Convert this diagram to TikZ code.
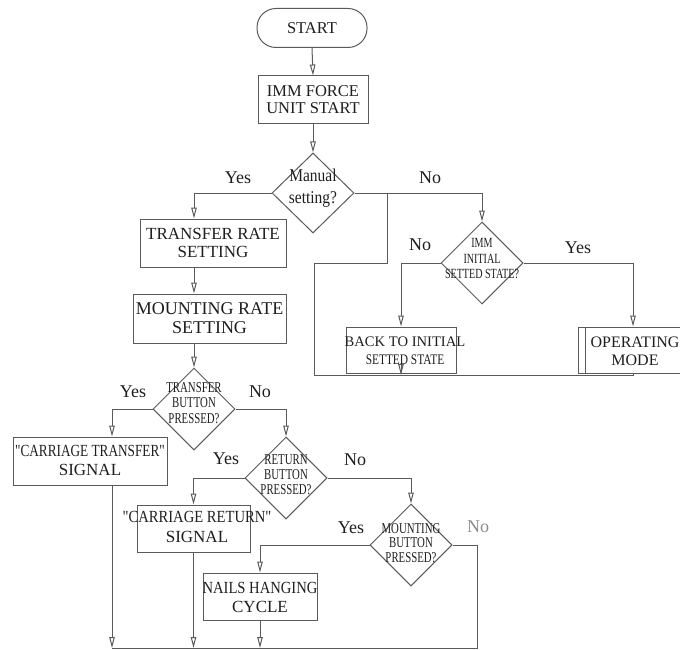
\documentclass[tikz,border=0pt]{standalone}
\usepackage{fontspec}
\setmainfont{Liberation Serif}
\newfontfamily\condA[FakeStretch=0.78]{Liberation Serif}
\newfontfamily\condB[FakeStretch=0.86]{Liberation Serif}
\newfontfamily\condC[FakeStretch=0.72]{Liberation Serif}
\usetikzlibrary{shapes.geometric,arrows.meta}
\definecolor{linec}{RGB}{90,90,90}
\definecolor{txtc}{RGB}{30,30,30}
\definecolor{lgray}{RGB}{140,140,140}
\begin{document}
\begin{tikzpicture}[x=1pt,y=-1pt,
  every node/.style={text=txtc},
  box/.style={draw=linec, line width=1pt, inner sep=0pt, align=center},
  dia/.style={draw=linec, line width=1pt, diamond, inner sep=0pt, minimum width=82pt, minimum height=82pt},
  txt/.style={inner sep=0pt, align=center},
  lbl/.style={inner sep=0pt, font=\fontsize{18}{20}\selectfont},
  ln/.style={draw=linec, line width=1pt},
  arr/.style={ln, -{Triangle[open,length=11pt,width=5.5pt]}}
]
\useasboundingbox (0,0) rectangle (680,650);
\clip (0,0) rectangle (680,650);

% coordinates
\coordinate (bl) at (112,648);
\coordinate (br) at (477,648);
\coordinate (rbl) at (314,375);
\coordinate (rbr) at (633,375);
\coordinate (lp1) at (314,263);
\coordinate (lp2) at (387,193);

% nodes
\node[box, rounded corners=19pt, minimum width=110pt, minimum height=39pt, font=\fontsize{16.5}{18}\selectfont] (start) at (312,28) {START};
\node[box, minimum width=110pt, minimum height=48pt, font=\fontsize{16.5}{17}\selectfont] (imm) at (313,100) {IMM FORCE\\UNIT START};
\node[dia, minimum width=82pt, minimum height=80pt] (man) at (313,193) {};
\node[txt, font=\condB\fontsize{18}{22}\selectfont] (mant) at (313,188) {Manual\\setting?};

\node[box, minimum width=146pt, minimum height=48pt, font=\fontsize{17}{18.5}\selectfont] (tr) at (213,243) {TRANSFER RATE\\SETTING};
\node[box, minimum width=153pt, minimum height=49pt, font=\fontsize{18}{19}\selectfont] (mr) at (209.5,318.5) {MOUNTING RATE\\SETTING};

\node[dia] (tb) at (194,409) {};
\node[txt, font=\condC\fontsize{15}{15.5}\selectfont] (tbt) at (194,403) {TRANSFER\\BUTTON\\PRESSED?};

\node[box, minimum width=154pt, minimum height=48pt] (ct) at (90,461) {};
\node[txt, font=\fontsize{17}{19}\selectfont] (ctt) at (90,460) {{\condA"CARRIAGE TRANSFER"}\\SIGNAL};

\node[dia] (rb) at (286,478) {};
\node[txt, font=\condC\fontsize{15}{15}\selectfont] (rbt) at (286,475) {RETURN\\BUTTON\\PRESSED?};

\node[box, minimum width=113pt, minimum height=47pt] (cr) at (193.5,528.5) {};
\node[txt, font=\fontsize{17}{20}\selectfont] (crt) at (197,527) {{\condB"CARRIAGE RETURN"}\\SIGNAL};

\node[dia] (mb) at (411,545) {};
\node[txt, font=\condC\fontsize{15}{14.5}\selectfont] (mbt) at (411,543) {MOUNTING\\BUTTON\\PRESSED?};

\node[box, minimum width=114pt, minimum height=47pt] (nh) at (260,596.5) {};
\node[txt, font=\fontsize{17}{19}\selectfont] (nht) at (260,597) {{\condB NAILS HANGING}\\CYCLE};

\node[dia] (ii) at (482,263) {};
\node[txt, font=\condC\fontsize{14}{15.5}\selectfont] (iit) at (482,259) {IMM\\INITIAL\\SETTED STATE?};

\node[box, minimum width=110pt, minimum height=46pt] (bk) at (401,350) {};
\node[txt, font=\fontsize{14.6}{18}\selectfont] (bkt) at (405,351) {BACK TO INITIAL\\{\condA SETTED STATE}};

\node[box, minimum width=110pt, minimum height=46pt] (op) at (633,350) {};
\draw[ln] ([xshift=8pt]op.north west) -- ([xshift=8pt]op.south west);
\node[txt, font=\fontsize{16}{18}\selectfont] (opt) at (635,351) {OPERATING\\MODE};

% labels
\node[lbl] (l1) at (238,178) {Yes};
\node[lbl] (l2) at (430,178) {No};
\node[lbl] (l3) at (420,245) {No};
\node[lbl] (l4) at (578,248) {Yes};
\node[lbl] (l5) at (133,392) {Yes};
\node[lbl] (l6) at (260,392) {No};
\node[lbl] (l7) at (226,459) {Yes};
\node[lbl] (l8) at (355,460) {No};
\node[lbl] (l9) at (351,528) {Yes};
\node[lbl, text=lgray] (l10) at (478,527) {No};

% connectors
\draw[arr] (start.south) -- (imm.north);
\draw[arr] (imm.south) -- (man.north);
\draw[arr] (man.west) -| (tr.north -| tb.north);
\draw[arr] (tr.south -| tb.north) -- (mr.north -| tb.north);
\draw[arr] (mr.south -| tb.north) -- (tb.north);
\draw[arr] (tb.west) -| ([xshift=22pt]ct.north);
\draw[arr] (tb.east) -| (rb.north);
\draw[arr] (rb.west) -| (cr.north);
\draw[arr] (rb.east) -| (mb.north);
\draw[arr] (mb.west) -| (nh.north);
\draw[ln] (mb.east) -| (br) -- (bl);
\draw[arr] ([xshift=22pt]ct.south) -- (bl);
\draw[arr] (cr.south) -- (cr.south |- bl);
\draw[arr] (nh.south) -- (nh.south |- bl);
\draw[arr] (man.east) -| (ii.north);
\draw[arr] (ii.west) -| (bk.north);
\draw[arr] (ii.east) -| (op.north);
\draw[arr] (bk.south) -- (bk.south |- rbl);
\draw[ln] (op.south) -- (rbr) -- (rbl) -- (lp1) -| (lp2);
\end{tikzpicture}
\end{document}
